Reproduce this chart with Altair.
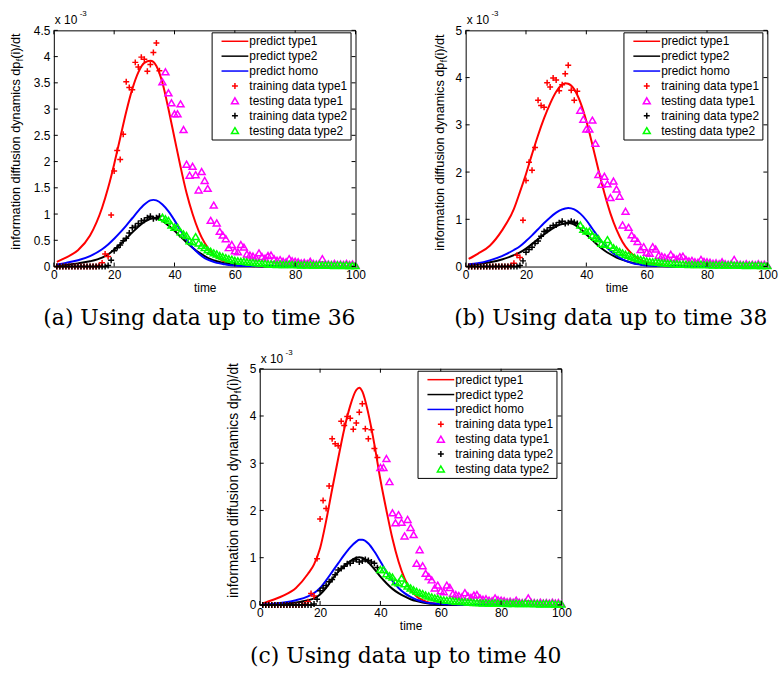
import altair as alt
import pandas as pd

# ---------------- data (values in units of 1e-3) ----------------
times = list(range(1, 101))

type1_values = [
    0.00, 0.00, 0.00, 0.00, 0.00, 0.00, 0.00, 0.00, 0.00, 0.00,
    0.00, 0.00, 0.00, 0.00, 0.02, 0.07, 0.24, 0.19, 0.98, 1.82,
    2.21, 2.04, 2.52, 3.52, 3.41, 3.37, 3.89, 3.80, 3.99, 3.95,
    3.72, 3.85, 4.08, 4.26, 3.73, 3.52, 3.71, 3.31, 3.12, 2.91,
    2.91, 3.10, 2.61, 1.95, 1.74, 1.91, 1.75, 1.46, 1.81, 1.64,
    1.49, 0.88, 1.17, 0.83, 0.67, 0.60, 0.53, 0.36, 0.42, 0.30,
    0.28, 0.42, 0.37, 0.24, 0.22, 0.20, 0.17, 0.26, 0.19, 0.16,
    0.21, 0.22, 0.15, 0.12, 0.13, 0.10, 0.09, 0.15, 0.11, 0.10,
    0.09, 0.07, 0.08, 0.06, 0.10, 0.06, 0.05, 0.06, 0.15, 0.05,
    0.05, 0.04, 0.06, 0.04, 0.05, 0.04, 0.06, 0.04, 0.05, 0.03,
]

type2_values = [
    0.00, 0.00, 0.00, 0.00, 0.00, 0.00, 0.00, 0.00, 0.00, 0.00,
    0.00, 0.00, 0.00, 0.00, 0.00, 0.00, 0.00, 0.02, 0.12, 0.30,
    0.36, 0.41, 0.49, 0.54, 0.64, 0.74, 0.77, 0.82, 0.87, 0.88,
    0.93, 0.96, 0.91, 0.93, 0.96, 0.94, 0.91, 0.88, 0.79, 0.75,
    0.75, 0.66, 0.62, 0.59, 0.49, 0.47, 0.57, 0.45, 0.40, 0.36,
    0.32, 0.29, 0.26, 0.24, 0.21, 0.19, 0.17, 0.15, 0.14, 0.12,
    0.11, 0.10, 0.10, 0.09, 0.08, 0.08, 0.07, 0.07, 0.06, 0.06,
    0.05, 0.05, 0.05, 0.04, 0.05, 0.04, 0.04, 0.05, 0.04, 0.04,
    0.04, 0.03, 0.04, 0.03, 0.04, 0.03, 0.03, 0.04, 0.03, 0.03,
    0.03, 0.03, 0.02, 0.03, 0.03, 0.02, 0.03, 0.02, 0.02, 0.02,
]

curve_times = [1, 4, 8, 12, 16, 18, 20, 22, 24, 26, 28, 30, 32, 33, 34, 36,
               38, 40, 42, 44, 46, 48, 50, 52, 54, 56, 58, 60, 65, 70, 80, 100]

red_a = [0.09, 0.17, 0.31, 0.59, 1.12, 1.50, 1.95, 2.45, 2.95, 3.38, 3.70, 3.88, 3.92, 3.90, 3.82, 3.50,
         3.00, 2.45, 1.90, 1.40, 1.00, 0.68, 0.45, 0.29, 0.18, 0.11, 0.07, 0.04, 0.01, 0.005, 0.0, 0.0]
black_a = [0.01, 0.03, 0.06, 0.10, 0.17, 0.23, 0.32, 0.42, 0.53, 0.65, 0.76, 0.85, 0.91, 0.93, 0.92, 0.87,
           0.78, 0.68, 0.57, 0.46, 0.36, 0.27, 0.20, 0.14, 0.10, 0.07, 0.05, 0.03, 0.01, 0.005, 0.0, 0.0]
blue_a = [0.04, 0.07, 0.12, 0.20, 0.33, 0.42, 0.53, 0.65, 0.78, 0.92, 1.06, 1.18, 1.26, 1.27, 1.26, 1.18,
          1.05, 0.88, 0.69, 0.51, 0.36, 0.25, 0.16, 0.11, 0.07, 0.05, 0.03, 0.02, 0.01, 0.005, 0.0, 0.0]

red_b = [0.16, 0.27, 0.44, 0.76, 1.22, 1.58, 1.96, 2.38, 2.78, 3.14, 3.45, 3.70, 3.85, 3.88, 3.87, 3.75,
         3.48, 3.08, 2.58, 2.05, 1.55, 1.12, 0.78, 0.52, 0.34, 0.22, 0.14, 0.09, 0.03, 0.01, 0.0, 0.0]
black_b = [0.02, 0.05, 0.09, 0.15, 0.24, 0.30, 0.38, 0.48, 0.58, 0.68, 0.77, 0.85, 0.90, 0.91, 0.92, 0.89,
           0.80, 0.68, 0.56, 0.44, 0.34, 0.26, 0.19, 0.14, 0.10, 0.07, 0.05, 0.03, 0.01, 0.005, 0.0, 0.0]
blue_b = [0.05, 0.07, 0.13, 0.22, 0.35, 0.43, 0.54, 0.66, 0.79, 0.92, 1.04, 1.14, 1.21, 1.23, 1.24, 1.21,
          1.12, 0.98, 0.80, 0.62, 0.46, 0.33, 0.23, 0.15, 0.10, 0.06, 0.04, 0.02, 0.01, 0.005, 0.0, 0.0]

red_c = [0.03, 0.10, 0.20, 0.36, 0.66, 0.86, 1.20, 1.78, 2.45, 3.10, 3.72, 4.22, 4.55, 4.60, 4.52, 4.05,
         3.40, 2.65, 2.00, 1.40, 0.92, 0.56, 0.32, 0.18, 0.10, 0.05, 0.03, 0.02, 0.01, 0.0, 0.0, 0.0]
black_c = [0.00, 0.01, 0.02, 0.05, 0.10, 0.14, 0.22, 0.36, 0.54, 0.70, 0.82, 0.93, 1.00, 1.01, 1.00, 0.90,
           0.76, 0.60, 0.46, 0.34, 0.25, 0.18, 0.12, 0.08, 0.05, 0.03, 0.02, 0.01, 0.005, 0.0, 0.0, 0.0]
blue_c = [0.01, 0.02, 0.05, 0.10, 0.18, 0.25, 0.36, 0.52, 0.70, 0.88, 1.06, 1.22, 1.34, 1.38, 1.38, 1.30,
          1.13, 0.92, 0.70, 0.51, 0.36, 0.25, 0.17, 0.11, 0.07, 0.04, 0.03, 0.02, 0.01, 0.0, 0.0, 0.0]

cutoffs = [36, 38, 40]
captions = ["(a) Using data up to time 36", "(b) Using data up to time 38", "(c) Using data up to time 40"]
y_max = [4.5, 5, 5]
y_ticks_a = [0, 0.5, 1, 1.5, 2, 2.5, 3, 3.5, 4, 4.5]
y_ticks_bc = [0, 1, 2, 3, 4, 5]
x_ticks = [0, 20, 40, 60, 80, 100]

series = ["predict type1", "predict type2", "predict homo",
          "training data type1", "testing data type1",
          "training data type2", "testing data type2"]
colors = ["#ff0000", "#000000", "#0000ff", "#ff0000", "#ff00ff", "#000000", "#00ff00"]
PLUS = "M-1.5,0H1.5M0,-1.5V1.5"
TRI = "M0,-1.5L1.75,1.5L-1.75,1.5Z"
LINE = "M-6.75,0H6.75"
shapes = [LINE, LINE, LINE, PLUS, TRI, PLUS, TRI]
sizes = [16, 16, 16, 16, 16, 16, 16]

FONT = "Liberation Sans"
W, H = 304, 238


def panel(preds, cutoff, caption, ymax, yticks, title_x, title_fs, title_y0):
    line_rows = []
    for name, vals in zip(series[:3], preds):
        for t, v in zip(curve_times, vals):
            line_rows.append({"t": t, "v": v, "series": name})
    lines_df = pd.DataFrame(line_rows)

    pt_rows = []
    for train_name, test_name, vals in [
        ("training data type1", "testing data type1", type1_values),
        ("training data type2", "testing data type2", type2_values),
    ]:
        for t, v in zip(times, vals):
            if t < cutoff:
                pt_rows.append({"t": t, "v": v, "series": train_name})
        for t, v in zip(times, vals):
            if t >= cutoff:
                pt_rows.append({"t": t, "v": v, "series": test_name})
    pts_df = pd.DataFrame(pt_rows)

    xs = alt.Scale(domain=[0, 100], nice=False, zero=False)
    ys = alt.Scale(domain=[0, ymax], nice=False)
    cs = alt.Scale(domain=series, range=colors)
    ss = alt.Scale(domain=series, range=shapes)
    zs = alt.Scale(type="ordinal", domain=series, range=sizes)
    xa = alt.Axis(values=x_ticks, title="time")
    ya = alt.Axis(values=yticks, format="~g", title=None)

    leg = alt.Legend(title=None, orient="none", legendX=159, legendY=2, padding=3, columns=1,
                     strokeColor="black", fillColor="white",
                     labelFont=FONT, labelFontSize=12, labelColor="black",
                     rowPadding=3, symbolOffset=14.5, labelOffset=8.5,
                     symbolStrokeWidth=1.5)

    X = alt.X("t:Q", scale=xs, axis=xa)
    Y = alt.Y("v:Q", scale=ys, axis=ya)

    lines = alt.Chart(lines_df).mark_line(strokeWidth=2, interpolate="monotone").encode(
        x=X, y=Y,
        color=alt.Color("series:N", scale=cs, legend=leg),
    )

    points = alt.Chart(pts_df).mark_point(filled=False, strokeWidth=1.5, opacity=1).encode(
        x=X, y=Y,
        color=alt.Color("series:N", scale=cs, legend=leg),
        shape=alt.Shape("series:N", scale=ss, legend=leg),
        size=alt.Size("series:N", scale=zs, legend=leg),
    )

    xt = pd.DataFrame({"t": x_ticks})
    yt = pd.DataFrame({"v": yticks})
    tick_b = alt.Chart(xt).mark_rule(color="black", strokeWidth=1).encode(
        x=X, y=alt.value(H), y2=alt.value(H - 4))
    tick_t = alt.Chart(xt).mark_rule(color="black", strokeWidth=1).encode(
        x=X, y=alt.value(0), y2=alt.value(4))
    tick_l = alt.Chart(yt).mark_rule(color="black", strokeWidth=1).encode(
        y=Y, x=alt.value(0), x2=alt.value(4))
    tick_r = alt.Chart(yt).mark_rule(color="black", strokeWidth=1).encode(
        y=Y, x=alt.value(W), x2=alt.value(W - 4))

    one = pd.DataFrame({"k": [0]})
    fs = title_fs
    fsub = fs * 0.68
    w1 = 14.839 * fs
    wf = 0.278 * fsub
    y0 = title_y0
    t1 = alt.Chart(one).mark_text(text="information diffusion dynamics dp", angle=270, align="left",
                                  baseline="middle", font=FONT, fontSize=fs, color="black").encode(
        x=alt.value(title_x), y=alt.value(y0))
    t2 = alt.Chart(one).mark_text(text="f", angle=270, align="left", baseline="middle",
                                  font=FONT, fontSize=fsub, color="black").encode(
        x=alt.value(title_x + 0.3 * fs), y=alt.value(y0 - w1))
    t3 = alt.Chart(one).mark_text(text="(i)/dt", angle=270, align="left", baseline="middle",
                                  font=FONT, fontSize=fs, color="black").encode(
        x=alt.value(title_x), y=alt.value(y0 - w1 - wf))
    e1 = alt.Chart(one).mark_text(text="x 10", align="left", baseline="middle",
                                  font=FONT, fontSize=12, color="black").encode(
        x=alt.value(1), y=alt.value(-10))
    e2 = alt.Chart(one).mark_text(text="-3", align="left", baseline="middle",
                                  font=FONT, fontSize=8, color="black").encode(
        x=alt.value(26), y=alt.value(-16))

    return alt.layer(lines, points, tick_b, tick_t, tick_l, tick_r, t1, t2, t3, e1, e2).properties(
        width=W, height=H,
        title=alt.TitleParams(text=caption, orient="bottom", anchor="end", frame="group",
                              font="DejaVu Serif", fontSize=22, fontWeight="normal",
                              color="black", offset=15),
    )


pa = panel([red_a, black_a, blue_a], cutoffs[0], captions[0], y_max[0], y_ticks_a, -38, 12.8, 221)
pb = panel([red_b, black_b, blue_b], cutoffs[1], captions[1], y_max[1], y_ticks_bc, -26, 12.8, 222)
pc = panel([red_c, black_c, blue_c], cutoffs[2], captions[2], y_max[2], y_ticks_bc, -26, 13.9, 231)

res = dict(x="independent", y="independent", color="independent", shape="independent", size="independent")
row1 = alt.hconcat(pa, pb, spacing=67).resolve_scale(**res).resolve_legend(
    color="independent", shape="independent", size="independent")
chart = alt.vconcat(row1, pc, spacing=18, center=True).resolve_scale(**res).resolve_legend(
    color="independent", shape="independent", size="independent")

chart = chart.properties(
    padding={"left": 9, "top": 7, "right": 2, "bottom": 2},
    background="white",
).configure_view(stroke="black", strokeWidth=1).configure_axis(
    labelFont=FONT, labelFontSize=12, labelColor="black", labelFlush=False,
    titleFont=FONT, titleFontSize=12, titleFontWeight="normal", titleColor="black",
    domain=False, ticks=False, tickSize=0, grid=False,
).configure_axisX(labelPadding=3, titlePadding=2).configure_axisY(labelPadding=4)

chart.save("out.html", embed_options={"renderer": "svg", "actions": False})
